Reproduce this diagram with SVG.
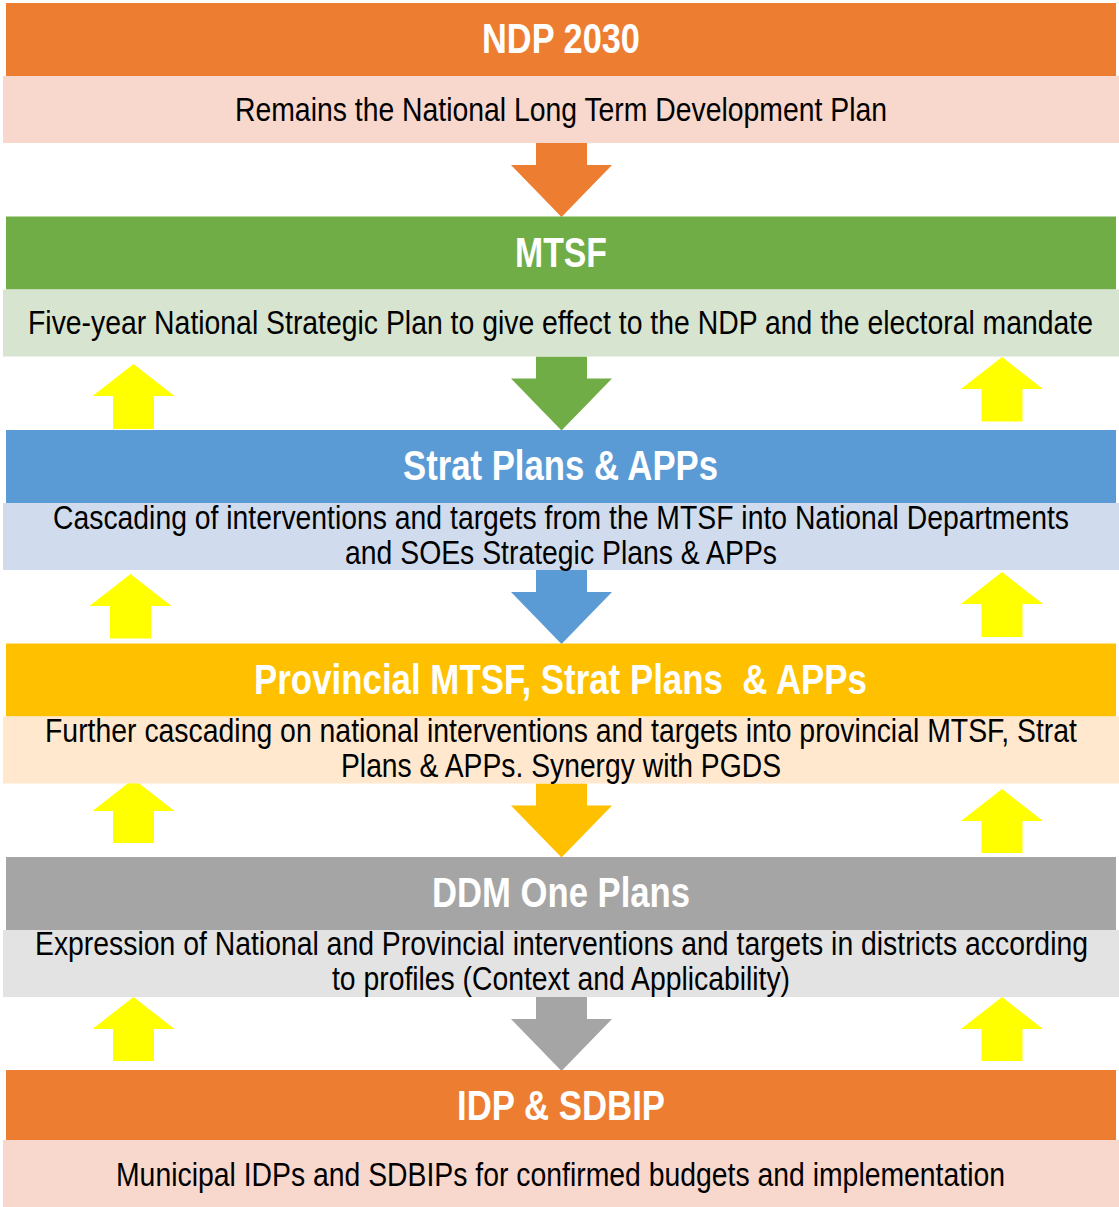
<svg xmlns="http://www.w3.org/2000/svg" width="1119" height="1207" viewBox="0 0 1119 1207">
<style>
.h{font-family:"Liberation Sans Narrow","Liberation Sans",Arial,sans-serif;font-weight:bold;font-size:42px;fill:#fff;text-anchor:middle}
.b{font-family:"Liberation Sans Narrow","Liberation Sans",Arial,sans-serif;font-size:33px;fill:#000;text-anchor:middle}
.up{fill:#FFFF00}
.pre{white-space:pre}
</style>
<rect width="1119" height="1207" fill="#fff"/>
<g id="connectors">
<path d="M536 143H587V165H612L561.5 217L511 165H536Z" fill="#ED7D31"/>
<path d="M536 356.5H587V378.5H612L561.5 430.5L511 378.5H536Z" fill="#70AD47"/>
<path d="M536 570H587V592H612L561.5 644L511 592H536Z" fill="#5B9BD5"/>
<path d="M536 783.5H587V805.5H612L561.5 857.5L511 805.5H536Z" fill="#FFC000"/>
<path d="M536 997H587V1019H612L561.5 1071L511 1019H536Z" fill="#A5A5A5"/>
<path class="up" d="M133.5 364L174.5 396H154V429H113V396H92.5Z"/>
<path class="up" d="M1002 357L1043 389H1022.5V421.5H981.5V389H961Z"/>
<path class="up" d="M130.5 574L171.5 606H151V638.5H110V606H89.5Z"/>
<path class="up" d="M1002 572L1043 604H1022.5V637H981.5V604H961Z"/>
<path class="up" d="M133.5 779L174.5 811H154V843H113V811H92.5Z"/>
<path class="up" d="M1002 789L1043 821H1022.5V853H981.5V821H961Z"/>
<path class="up" d="M133.5 997L174.5 1029H154V1061H113V1029H92.5Z"/>
<path class="up" d="M1002 997L1043 1029H1022.5V1061H981.5V1029H961Z"/>
</g>
<g id="ndp">
<rect x="6" y="3" width="1110" height="73" fill="#ED7D31"/>
<rect x="3" y="76" width="1116" height="67" fill="#F8D7CD"/>
<text class="h" x="561" y="53" textLength="158" lengthAdjust="spacingAndGlyphs">NDP 2030</text>
<text class="b" x="561" y="120.5" textLength="652" lengthAdjust="spacingAndGlyphs">Remains the National Long Term Development Plan</text>
</g>
<g id="mtsf">
<rect x="6" y="216.5" width="1110" height="73" fill="#70AD47"/>
<rect x="3" y="289.5" width="1116" height="67" fill="#D7E4D0"/>
<text class="h" x="561" y="266.5" textLength="92" lengthAdjust="spacingAndGlyphs">MTSF</text>
<text class="b" x="560.5" y="334" textLength="1065" lengthAdjust="spacingAndGlyphs">Five-year National Strategic Plan to give effect to the NDP and the electoral mandate</text>
</g>
<g id="strat">
<rect x="6" y="430" width="1110" height="73" fill="#5B9BD5"/>
<rect x="3" y="503" width="1116" height="67" fill="#D0DCEE"/>
<text class="h" x="560.5" y="480" textLength="315" lengthAdjust="spacingAndGlyphs">Strat Plans &amp; APPs</text>
<text class="b" x="561" y="528.5" textLength="1016" lengthAdjust="spacingAndGlyphs">Cascading of interventions and targets from the MTSF into National Departments</text>
<text class="b" x="561" y="563.5" textLength="432" lengthAdjust="spacingAndGlyphs">and SOEs Strategic Plans &amp; APPs</text>
</g>
<g id="provincial">
<rect x="6" y="643.5" width="1110" height="73" fill="#FFC000"/>
<rect x="3" y="716.5" width="1116" height="67" fill="#FFE8CE"/>
<text class="h pre" x="560.5" y="693.5" textLength="613" lengthAdjust="spacingAndGlyphs">Provincial MTSF, Strat Plans  &amp; APPs</text>
<text class="b" x="561" y="742" textLength="1032" lengthAdjust="spacingAndGlyphs">Further cascading on national interventions and targets into provincial MTSF, Strat</text>
<text class="b" x="561" y="777" textLength="440" lengthAdjust="spacingAndGlyphs">Plans &amp; APPs. Synergy with PGDS</text>
</g>
<g id="ddm">
<rect x="6" y="857" width="1110" height="73" fill="#A5A5A5"/>
<rect x="3" y="930" width="1116" height="67" fill="#E3E3E3"/>
<text class="h" x="561" y="907" textLength="258" lengthAdjust="spacingAndGlyphs">DDM One Plans</text>
<text class="b" x="561.5" y="955" textLength="1053" lengthAdjust="spacingAndGlyphs">Expression of National and Provincial interventions and targets in districts according</text>
<text class="b" x="561" y="990" textLength="458" lengthAdjust="spacingAndGlyphs">to profiles (Context and Applicability)</text>
</g>
<g id="idp">
<rect x="6" y="1070" width="1110" height="70" fill="#ED7D31"/>
<rect x="3" y="1140" width="1116" height="67" fill="#F8D7CD"/>
<text class="h" x="561" y="1120" textLength="208" lengthAdjust="spacingAndGlyphs">IDP &amp; SDBIP</text>
<text class="b" x="560.5" y="1185.5" textLength="889" lengthAdjust="spacingAndGlyphs">Municipal IDPs and SDBIPs for confirmed budgets and implementation</text>
</g>
</svg>
